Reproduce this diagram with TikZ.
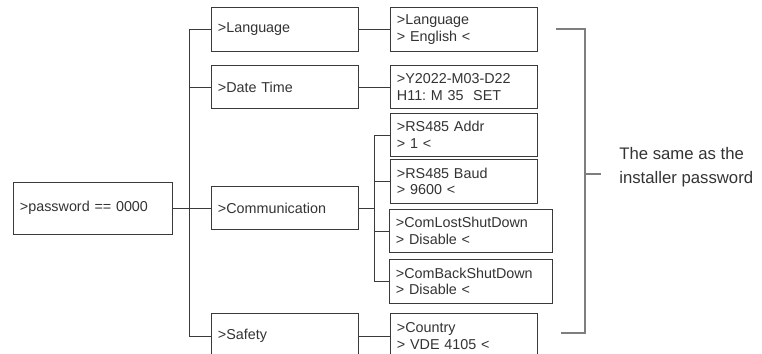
\documentclass[tikz,border=0pt]{standalone}
\usepackage{fontspec}
\setmainfont{Liberation Sans}
\usetikzlibrary{positioning}
\frenchspacing
\definecolor{Ink}{HTML}{333333}
\definecolor{Frame}{HTML}{3A3A3A}
\definecolor{Bracket}{HTML}{7E7E7E}
\tikzset{
  menu/.style={draw=Frame,line width=0.7pt,fill=white,text=Ink,align=left,minimum width=3.65cm,text width=3.35cm,minimum height=1.08cm,inner xsep=0.15cm,inner ysep=1pt,font=\fontsize{10.2}{11.8}\selectfont},
  widemenu/.style={menu,minimum width=4cm,text width=3.75cm},
  link/.style={draw=Frame,line width=0.7pt},
  bracket/.style={draw=Bracket,line width=0.9pt},
  note/.style={text=Ink,align=left,inner sep=0pt,font=\fontsize{11.9}{17.5}\selectfont}
}
\begin{document}
\begin{tikzpicture}[x=0.025cm,y=-0.025cm]
  \useasboundingbox (0,0) rectangle (762,354);
  % first level
  \node[menu,minimum width=3.95cm,text width=3.65cm,minimum height=1.3cm] (pwd) at (93,208) {>password == 0000};
  \node[menu] (lang) at (285,29.5) {>Language};
  \node[menu] (date) at (285,87) {>Date Time};
  \node[menu] (comm) at (285,208) {>Communication};
  \node[menu,minimum height=1.15cm] (safe) at (285,336) {>Safety};
  % second level
  \node[menu] (langset) at (464,29.5) {>Language\\> English <};
  \node[menu] (dateset) at (464,87) {>Y2022-M03-D22\\H11: M 35\ \ SET};
  \node[menu] (addr) at (464,135) {>RS485 Addr\\> 1 <};
  \node[menu] (baud) at (464,181.5) {>RS485 Baud\\> 9600 <};
  \node[widemenu] (lost) at (471,231) {>ComLostShutDown\\> Disable <};
  \node[widemenu] (back) at (471,281.5) {>ComBackShutDown\\> Disable <};
  \node[menu,minimum height=1.15cm] (country) at (464,336) {>Country\\> VDE 4105 <};
  % tree lines
  \coordinate (trunk) at (189,0);
  \draw[link] (lang.west) -- (lang.west -| trunk) |- (safe.west);
  \draw[link] (date.west) -- (date.west -| trunk);
  \draw[link] (pwd.east) -- (comm.west);
  \draw[link] (lang.east) -- (langset.west);
  \draw[link] (date.east) -- (dateset.west);
  \coordinate (fork) at (374,0);
  \draw[link] (comm.east) -- (comm.east -| fork);
  \draw[link] (addr.west) -- (addr.west -| fork) |- (back.west);
  \draw[link] (baud.west) -- (baud.west -| fork);
  \draw[link] (lost.west) -- (lost.west -| fork);
  \draw[link] (safe.east) -- (country.west);
  % bracket
  \coordinate (btop) at (556,29);
  \coordinate (bbot) at (561,333);
  \coordinate (bspine) at (585,0);
  \coordinate (btick) at (601,174);
  \draw[bracket] (btop) -- (btop -| bspine) -- (bbot -| bspine) -- (bbot);
  \draw[bracket] (btick -| bspine) -- (btick);
  \node[note,anchor=west] (same) at (619,167) {The same as the\\installer password};
\end{tikzpicture}
\end{document}
